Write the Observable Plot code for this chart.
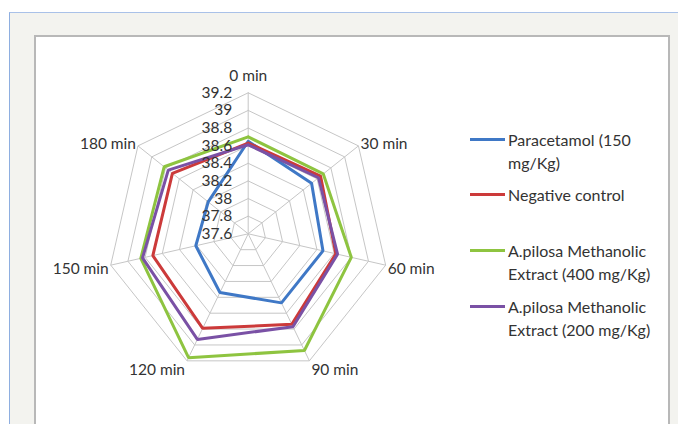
<!DOCTYPE html>
<html><head><meta charset="utf-8">
<script src="https://cdn.jsdelivr.net/npm/d3@7"></script>
<script src="https://cdn.jsdelivr.net/npm/@observablehq/plot@0.6"></script>
<style>
html,body{margin:0;padding:0;background:#fff;width:678px;height:424px;overflow:hidden;font-family:Lato,"Open Sans",sans-serif;}
#panel{position:absolute;left:9px;top:12px;width:669px;height:412px;background:#f3f3ef;border-left:1px solid #8eaee0;border-top:1px solid #a9c1e8;}
#inner{position:absolute;left:34px;top:35px;width:632px;height:400px;background:#fff;border:2px solid #b8b8b8;}
#chart{position:absolute;left:0;top:0;}
.leg{position:absolute;left:470px;display:flex;align-items:flex-start;}
.leg .sw{width:35px;height:3px;margin-top:10px;flex:none;}
.leg .tx{width:158px;margin-left:3px;font-size:16px;line-height:23px;color:#333;}
</style></head>
<body>
<div id="panel"></div>
<div id="inner"></div>
<div id="chart"></div>
<div id="legend"></div>
<script>
const times = ["0 min","30 min","60 min","90 min","120 min","150 min","180 min"];
const seriesNames = ["Paracetamol (150 mg/Kg)","Negative control","A.pilosa Methanolic Extract (400 mg/Kg)","A.pilosa Methanolic Extract (200 mg/Kg)"];
const paracetamol     = [38.65, 38.52, 38.47, 38.47, 38.34, 38.21, 38.18];
const negativeControl = [38.63, 38.65, 38.62, 38.74, 38.79, 38.71, 38.70];
const extract400      = [38.70, 38.69, 38.80, 39.07, 39.16, 38.85, 38.82];
const extract200      = [38.61, 38.62, 38.64, 38.77, 38.93, 38.83, 38.76];
const tickValues = [37.6, 37.8, 38, 38.2, 38.4, 38.6, 38.8, 39, 39.2];
const colors = ["#3f78c6", "#cc3a3a", "#8ec440", "#7a51a5"];

const seriesValues = [paracetamol, negativeControl, extract400, extract200];
const rMin = tickValues[0], rMax = tickValues[tickValues.length - 1];
const rScale = d3.scaleLinear().domain([rMin, rMax]).range([0, 1]);
const n = times.length;
const ang = i => (i % n) * 2 * Math.PI / n;

const seriesPts = [];
seriesValues.forEach((vals, s) => {
  for (let i = 0; i <= n; i++) {
    const v = vals[i % n], r = rScale(v), a = ang(i);
    seriesPts.push({s: seriesNames[s], x: r * Math.sin(a), y: r * Math.cos(a)});
  }
});
const ringPts = [];
tickValues.slice(1).forEach(t => {
  for (let i = 0; i <= n; i++) {
    const r = rScale(t), a = ang(i);
    ringPts.push({t, x: r * Math.sin(a), y: r * Math.cos(a)});
  }
});
const spokes = times.map((t, i) => ({x: Math.sin(ang(i)), y: Math.cos(ang(i)), i, t}));

const cx = 247.7, cy = 233.3, R = 141;
const lab = spokes.map(d => {
  const c = d.y, s = d.x;
  let anchor = Math.abs(s) < 1e-6 ? "middle" : (s > 0 ? "start" : "end");
  let dy = c > 0.9 ? -17 : c > 0 ? -2 : c > -0.5 ? 4 : 9;
  let dx = anchor === "start" ? 2 : anchor === "end" ? -2 : 0;
  return {...d, anchor, dy, dx};
});

const chart = Plot.plot({
  width: 678, height: 424,
  marginTop: 0, marginBottom: 0, marginLeft: 0, marginRight: 0,
  style: {background: "transparent", fontFamily: "Lato, 'Open Sans', sans-serif"},
  x: {type: "linear", domain: [-1, 1], range: [cx - R, cx + R], axis: null},
  y: {type: "linear", domain: [-1, 1], range: [cy + R, cy - R], axis: null},
  color: {domain: seriesNames, range: colors},
  marks: [
    Plot.line(ringPts, {x: "x", y: "y", z: "t", stroke: "#c6c6c6", strokeWidth: 1}),
    Plot.link(spokes, {x1: 0, y1: 0, x2: "x", y2: "y", stroke: "#c6c6c6", strokeWidth: 1}),
    Plot.line(seriesPts, {x: "x", y: "y", z: "s", stroke: "s", strokeWidth: 3, strokeLinejoin: "miter"}),
    Plot.text(tickValues, {x: () => 0, y: d => rScale(d), text: d => String(d), textAnchor: "end", dx: -16, fontSize: 15.5, fill: "#333"}),
    ...lab.map(d => Plot.text([d], {x: "x", y: "y", text: "t", textAnchor: d.anchor, dx: d.dx, dy: d.dy, fontSize: 15.5, fill: "#333"}))
  ]
});
document.getElementById("chart").appendChild(chart);

const legend = document.getElementById("legend");
seriesNames.forEach((name, i) => {
  const item = document.createElement("div");
  item.className = "leg";
  item.style.top = (139 + i * 55.7 - 11.5) + "px";
  const sw = document.createElement("div");
  sw.className = "sw"; sw.style.background = colors[i];
  const tx = document.createElement("div");
  tx.className = "tx"; tx.textContent = name;
  item.appendChild(sw); item.appendChild(tx);
  legend.appendChild(item);
});
</script>
</body></html>
